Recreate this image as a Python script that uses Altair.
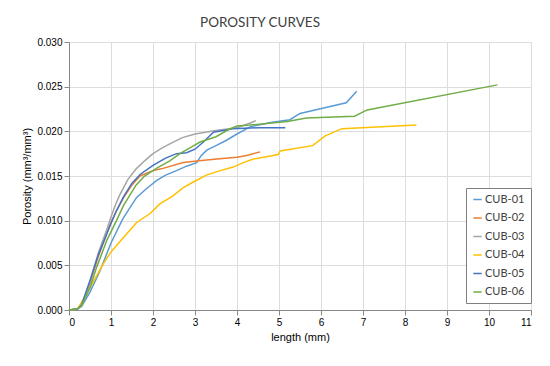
import altair as alt
import pandas as pd

series_names = ["CUB-01", "CUB-02", "CUB-03", "CUB-04", "CUB-05", "CUB-06"]
series_colors = ["#5B9BD5", "#ED7D31", "#A5A5A5", "#FFC000", "#4472C4", "#70AD47"]

cub01_x = [0, 0.2, 0.3, 0.5, 0.74, 1.0, 1.28, 1.61, 1.85, 2.09, 2.3, 2.56, 2.8, 3.04, 3.15, 3.28, 3.5, 3.75, 4.0, 4.31, 4.8, 5.26, 5.5, 6.6, 6.85]
cub01_y = [0, 0.0001, 0.0004, 0.0020, 0.0044, 0.0075, 0.0102, 0.0126, 0.0136, 0.0145, 0.0151, 0.0156, 0.0161, 0.0165, 0.0173, 0.0179, 0.0184, 0.0190, 0.0197, 0.0205, 0.0210, 0.0213, 0.0220, 0.0232, 0.0245]

cub02_x = [0, 0.2, 0.3, 0.5, 0.7, 0.9, 1.0, 1.15, 1.29, 1.5, 1.69, 2.0, 2.2, 2.72, 3.1, 3.52, 4.0, 4.23, 4.55]
cub02_y = [0, 0.0001, 0.0005, 0.0030, 0.0060, 0.0086, 0.0098, 0.0113, 0.0125, 0.0140, 0.0150, 0.0156, 0.0158, 0.0165, 0.0167, 0.0169, 0.0171, 0.0173, 0.0177]

cub03_x = [0, 0.2, 0.3, 0.5, 0.7, 0.9, 1.0, 1.1, 1.2, 1.4, 1.6, 1.8, 2.0, 2.2, 2.4, 2.7, 3.0, 3.5, 4.0, 4.3, 4.45]
cub03_y = [0, 0.0001, 0.0005, 0.0032, 0.0064, 0.0090, 0.0104, 0.0117, 0.0128, 0.0146, 0.0158, 0.0167, 0.0175, 0.0181, 0.0186, 0.0193, 0.0197, 0.0201, 0.0204, 0.0209, 0.0212]

cub04_x = [0, 0.2, 0.34, 0.5, 0.82, 1.0, 1.37, 1.61, 1.93, 2.17, 2.45, 2.72, 2.95, 3.27, 3.6, 3.91, 4.15, 4.39, 4.98, 5.03, 5.8, 6.1, 6.5, 8.27]
cub04_y = [0, 0.0001, 0.0012, 0.0025, 0.0052, 0.0065, 0.0085, 0.0098, 0.0108, 0.0119, 0.0127, 0.0137, 0.0143, 0.0151, 0.0156, 0.0160, 0.0165, 0.0169, 0.0174, 0.0178, 0.0184, 0.0195, 0.0203, 0.0207]

cub05_x = [0, 0.2, 0.3, 0.5, 0.7, 0.9, 1.0, 1.1, 1.3, 1.5, 1.7, 2.0, 2.3, 2.56, 2.8, 3.0, 3.2, 3.44, 3.9, 4.5, 5.15]
cub05_y = [0, 0.0001, 0.0006, 0.0033, 0.0062, 0.0085, 0.0097, 0.0108, 0.0127, 0.0142, 0.0152, 0.0162, 0.0170, 0.0175, 0.0176, 0.0180, 0.0188, 0.0199, 0.0203, 0.0204, 0.0204]

cub06_x = [0, 0.2, 0.3, 0.5, 0.66, 0.9, 1.13, 1.3, 1.6, 1.8, 2.1, 2.4, 2.64, 2.9, 3.12, 3.5, 3.8, 4.0, 4.3, 5.2, 5.65, 6.8, 7.1, 10.2]
cub06_y = [0, 0.0001, 0.0005, 0.0025, 0.0048, 0.0078, 0.0100, 0.0117, 0.0140, 0.0150, 0.0159, 0.0167, 0.0175, 0.0182, 0.0188, 0.0194, 0.0202, 0.0206, 0.0207, 0.0211, 0.0215, 0.0217, 0.0224, 0.0252]

x_ticks = list(range(0, 12))
y_ticks = [0.0, 0.005, 0.010, 0.015, 0.020, 0.025, 0.030]

all_x = [cub01_x, cub02_x, cub03_x, cub04_x, cub05_x, cub06_x]
all_y = [cub01_y, cub02_y, cub03_y, cub04_y, cub05_y, cub06_y]

rows = []
for name, xs, ys in zip(series_names, all_x, all_y):
    for i, (xv, yv) in enumerate(zip(xs, ys)):
        rows.append({"series": name, "length": xv, "porosity": yv, "order": i})
df = pd.DataFrame(rows)

font = "Lato"
grey_text = "#595959"

chart = alt.Chart(df).mark_line(strokeWidth=1.5).encode(
    x=alt.X("length:Q",
            scale=alt.Scale(domain=[0, 11], nice=False),
            axis=alt.Axis(values=x_ticks, format="d", title="length (mm)",
                          titleFontWeight="normal")),
    y=alt.Y("porosity:Q",
            scale=alt.Scale(domain=[0, 0.03], nice=False),
            axis=alt.Axis(values=y_ticks, format=".3f", title="Porosity (mm³/mm³)",
                          titleFontWeight="normal")),
    color=alt.Color("series:N", title=None,
                    scale=alt.Scale(domain=series_names, range=series_colors),
                    legend=alt.Legend(orient="none", legendX=397, legendY=146,
                                      symbolType="stroke", symbolSize=70,
                                      symbolStrokeWidth=1.5,
                                      strokeColor="#7F7F7F", padding=6,
                                      rowPadding=6.5, labelFontSize=11,
                                      labelFont=font, labelColor="#404040",
                                      labelOffset=2, fillColor="white")),
    order="order:Q",
).properties(
    width=462, height=268,
    title=alt.TitleParams("POROSITY CURVES", fontSize=13.5, font=font,
                          fontWeight="normal", color="#404040", offset=8,
                          anchor="middle", dx=-40),
    autosize=alt.AutoSizeParams(type="none"),
    padding={"left": 61, "top": 34, "right": 11, "bottom": 48},
).configure_view(
    stroke=None
).configure_axis(
    grid=True, gridColor="#D9D9D9", gridWidth=1,
    domain=False, ticks=False,
    labelFont=font, labelFontSize=11, labelColor=grey_text,
    titleFont=font, titleFontSize=11, titleColor=grey_text,
    titleFontWeight="normal"
).configure_axisX(
    labelPadding=8, titlePadding=9
).configure_axisY(
    labelPadding=9, titlePadding=16
).configure(background="white")

chart.save("out.html", embed_options={"renderer": "svg", "actions": False})
